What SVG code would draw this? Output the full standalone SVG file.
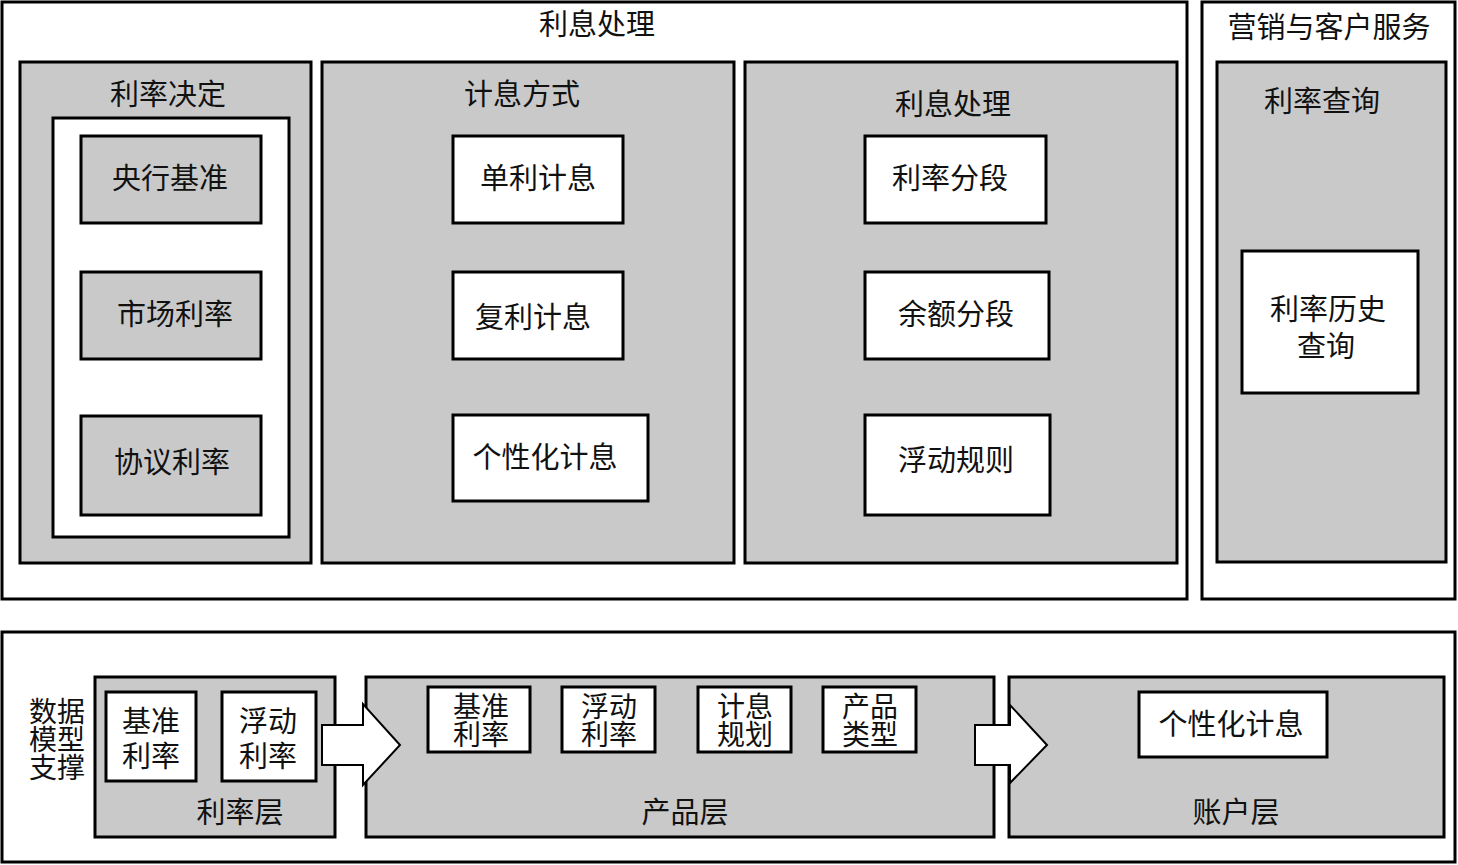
<svg xmlns="http://www.w3.org/2000/svg" width="1458" height="865" viewBox="0 0 1458 865">
<style>
.frame{fill:#ffffff;stroke:#000;stroke-width:3}
.panel{fill:#c9c9c9;stroke:#000;stroke-width:3}
.wbox{fill:#ffffff;stroke:#000;stroke-width:3}
.gbox{fill:#c9c9c9;stroke:#000;stroke-width:3}
.arrow{fill:#ffffff;stroke:#000;stroke-width:2}
text{font-family:"Liberation Serif","Noto Sans CJK SC",serif;font-size:29px;fill:#111;text-anchor:middle;dominant-baseline:central}
.s28{font-size:28px}
</style>
<rect width="1458" height="865" fill="#ffffff"/>

<g id="top-main">
<rect class="frame" x="2" y="2" width="1185" height="597"/>
<text x="597" y="25">利息处理</text>
</g>
<g id="top-service">
<rect class="frame" x="1202" y="2" width="253" height="597"/>
<text x="1329" y="28">营销与客户服务</text>
</g>

<g id="rate-decision">
<rect class="panel" x="20" y="62" width="291" height="501"/>
<text x="168" y="95">利率决定</text>
<rect class="wbox" x="53" y="118" width="236" height="419"/>
</g>
<g id="central-bank"><rect class="gbox" x="81" y="136" width="180" height="87"/><text x="170" y="179">央行基准</text></g>
<g id="market-rate"><rect class="gbox" x="81" y="272" width="180" height="87"/><text x="175" y="315">市场利率</text></g>
<g id="agreement-rate"><rect class="gbox" x="81" y="416" width="180" height="99"/><text x="172" y="463">协议利率</text></g>

<g id="interest-method">
<rect class="panel" x="322" y="62" width="412" height="501"/>
<text x="522" y="95">计息方式</text>
</g>
<g id="simple-interest"><rect class="wbox" x="453" y="136" width="170" height="87"/><text x="538" y="179">单利计息</text></g>
<g id="compound-interest"><rect class="wbox" x="453" y="272" width="170" height="87"/><text x="533" y="318">复利计息</text></g>
<g id="custom-interest"><rect class="wbox" x="453" y="415" width="195" height="86"/><text x="545" y="458">个性化计息</text></g>

<g id="interest-processing">
<rect class="panel" x="745" y="62" width="432" height="501"/>
<text x="953" y="105">利息处理</text>
</g>
<g id="rate-tier"><rect class="wbox" x="865" y="136" width="181" height="87"/><text x="950" y="179">利率分段</text></g>
<g id="balance-tier"><rect class="wbox" x="865" y="272" width="184" height="87"/><text x="956" y="315">余额分段</text></g>
<g id="float-rule"><rect class="wbox" x="865" y="415" width="185" height="100"/><text x="956" y="461">浮动规则</text></g>

<g id="rate-query">
<rect class="panel" x="1217" y="62" width="229" height="500"/>
<text x="1322" y="102">利率查询</text>
</g>
<g id="rate-history"><rect class="wbox" x="1242" y="251" width="176" height="142"/><text x="1328" y="310">利率历史</text><text x="1326" y="347">查询</text></g>

<g id="bottom-frame">
<rect class="frame" x="2" y="632" width="1453" height="230"/>
<text x="57" y="712" class="s28">数据</text>
<text x="57" y="740" class="s28">模型</text>
<text x="57" y="768" class="s28">支撑</text>
</g>

<g id="rate-layer">
<rect class="panel" x="95" y="677" width="240" height="160"/>
<text x="240" y="813">利率层</text>
</g>
<g id="rl-base"><rect class="wbox" x="106" y="692" width="90" height="89"/><text x="151" y="722">基准</text><text x="151" y="757">利率</text></g>
<g id="rl-float"><rect class="wbox" x="222" y="692" width="94" height="89"/><text x="268" y="722">浮动</text><text x="268" y="757">利率</text></g>

<g id="product-layer">
<rect class="panel" x="366" y="677" width="628" height="160"/>
<text x="685" y="813">产品层</text>
</g>
<g id="pl-base"><rect class="wbox" x="428" y="687" width="102" height="65"/><text x="481" y="707" class="s28">基准</text><text x="481" y="735" class="s28">利率</text></g>
<g id="pl-float"><rect class="wbox" x="562" y="687" width="93" height="65"/><text x="609" y="707" class="s28">浮动</text><text x="609" y="735" class="s28">利率</text></g>
<g id="pl-plan"><rect class="wbox" x="698" y="687" width="93" height="65"/><text x="745" y="707" class="s28">计息</text><text x="745" y="735" class="s28">规划</text></g>
<g id="pl-type"><rect class="wbox" x="823" y="687" width="93" height="65"/><text x="870" y="707" class="s28">产品</text><text x="870" y="735" class="s28">类型</text></g>

<g id="account-layer">
<rect class="panel" x="1009" y="677" width="435" height="160"/>
<text x="1236" y="813">账户层</text>
</g>
<g id="al-custom"><rect class="wbox" x="1139" y="692" width="188" height="65"/><text x="1231" y="725">个性化计息</text></g>

<g id="connectors">
<polygon class="arrow" points="322,725 363,725 363,704 400,745 363,785 363,765 322,765"/>
<polygon class="arrow" points="975,725 1010,725 1010,705 1047,745 1010,783 1010,765 975,765"/>
</g>
</svg>
